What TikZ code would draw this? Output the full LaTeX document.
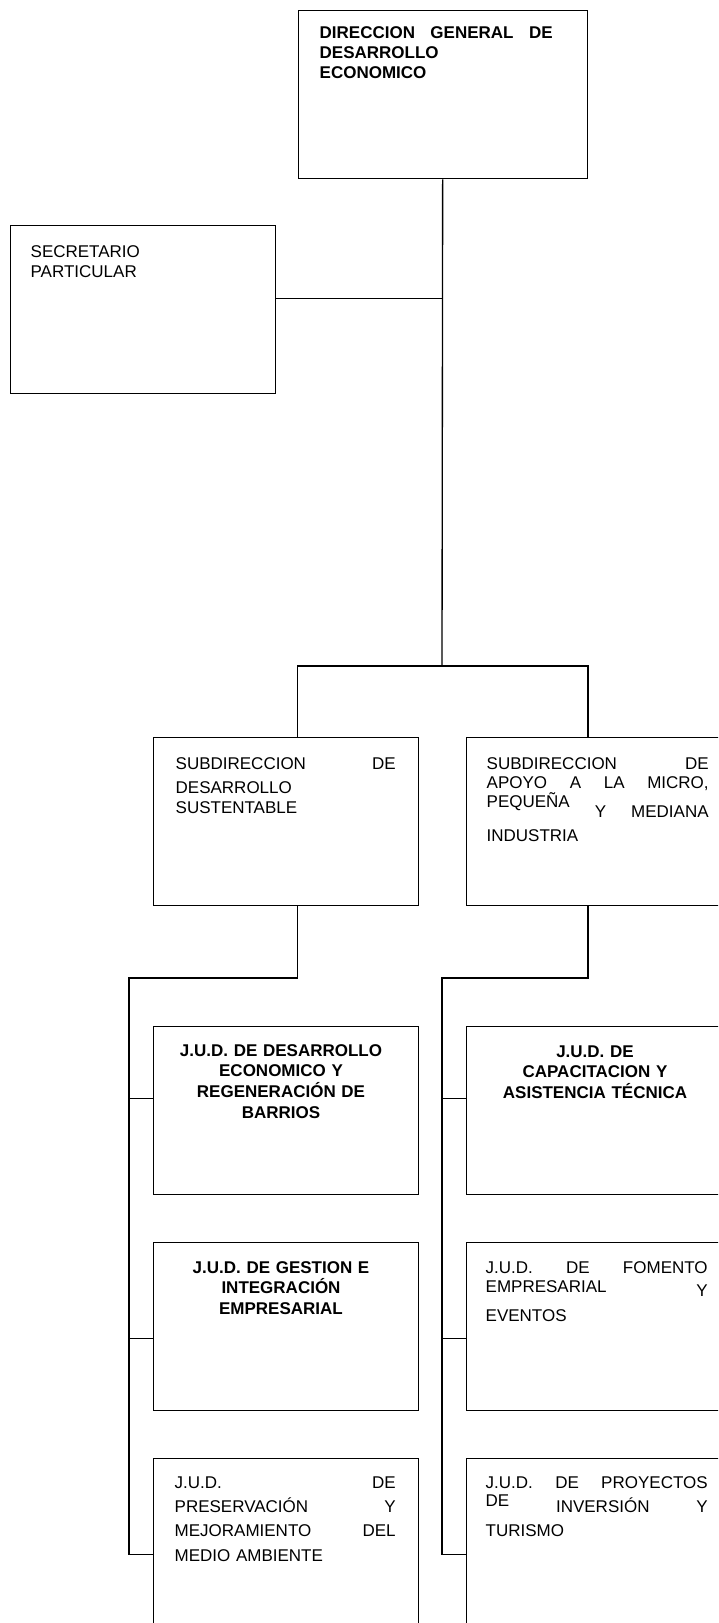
\documentclass[tikz,border=0pt]{standalone}
\usepackage{fontspec}
\setmainfont{Liberation Sans}

\begin{document}
\begin{tikzpicture}[x=0.75pt,y=-0.75pt,line width=1pt,
	box/.style={draw,anchor=north west,inner sep=0pt,minimum width=198.75pt,minimum height=126pt},
	txt/.style={anchor=base west,inner sep=0pt,align=left,font=\fontsize{12.75}{15}\selectfont},
	ctxt/.style={anchor=base,inner sep=0pt,align=center,text width=172.5pt,font=\fontsize{12.75}{15.5}\selectfont\bfseries},
	wide/.style={font=\fontsize{12.75}{18.25}\selectfont}]
\useasboundingbox (0,0) rectangle (718,1623);
\clip (0,0) rectangle (718,1623);

\node[box,minimum width=216.75pt] (dg) at (297.5,10) {};
\node[box] (sp) at (10,225) {};
\node[box] (sdL) at (153,737) {};
\node[box] (sdR) at (466,737) {};
\node[box] (jdL1) at (153,1026) {};
\node[box] (jdL2) at (153,1242) {};
\node[box] (jdL3) at (153,1458) {};
\node[box] (jdR1) at (466,1026) {};
\node[box] (jdR2) at (466,1242) {};
\node[box] (jdR3) at (466,1458) {};

\node[txt,text width=174.75pt] (dgT) at (319,39) {\bfseries DIRECCION\hfill GENERAL\hfill DE\\DESARROLLO\\ECONOMICO};
\node[txt,text width=180pt] (spT) at (30,257) {SECRETARIO\\PARTICULAR};
\node[txt,text width=165pt] (sdLT) at (175,769) {SUBDIRECCION\hfill DE\\[3pt]DESARROLLO\\SUSTENTABLE};
\node[txt,text width=166.5pt] (sdRT) at (486,769) {SUBDIRECCION\hfill DE\\[-0.75pt]APOYO\hfill A\hfill LA\hfill MICRO,\\[-0.75pt]PEQUEÑA\hfill\smash{\raisebox{-7.5pt}{Y}}\hfill\smash{\raisebox{-7.5pt}{MEDIANA}}\\[10.5pt]INDUSTRIA};
\node[ctxt] (jdL1T) at (281,1056) {J.U.D. DE DESARROLLO\\ECONOMICO Y\\REGENERACIÓN DE\\BARRIOS};
\node[ctxt] (jdR1T) at (595,1057) {J.U.D. DE\\CAPACITACION Y\\ASISTENCIA TÉCNICA};
\node[ctxt] (jdL2T) at (281,1273) {J.U.D. DE GESTION E\\INTEGRACIÓN\\EMPRESARIAL};
\node[txt,text width=166.5pt] (jdR2T) at (485,1273) {J.U.D.\hfill DE\hfill FOMENTO\\[-0.75pt]EMPRESARIAL\hfill\smash{\raisebox{-3pt}{Y}}\\[6.75pt]EVENTOS};
\node[txt,wide,text width=165.75pt] (jdL3T) at (174,1488) {J.U.D.\hfill DE\\PRESERVACIÓN\hfill Y\\MEJORAMIENTO\hfill DEL\\MEDIO AMBIENTE};
\node[txt,wide,text width=166.5pt] (jdR3T) at (485,1488) {J.U.D.\hfill DE\hfill PROYECTOS\\\raisebox{4.5pt}{DE}\hfill INVERSIÓN\hfill Y\\TURISMO};

\coordinate (jS) at (442,666);
\coordinate (jL) at (129,978);
\coordinate (jR) at (442,978);

\draw (dg.south) -- (jS);
\draw ([yshift=8.25pt]sp.east) -- ([yshift=8.25pt]sp.east -| jS);
\draw (dg.south west |- sdL.north) -- (dg.south west |- jS) -- (dg.south east |- jS) -- (dg.south east |- sdR.north);
\draw (sdL.south -| dg.south west) -- (dg.south west |- jL) -- (jL) -- ([yshift=-9pt]jdL3.west -| jL);
\draw (sdR.south -| dg.south east) -- (dg.south east |- jR) -- (jR) -- ([yshift=-9pt]jdR3.west -| jR);
\foreach \b/\s in {jdL1/9pt,jdL2/-9pt,jdL3/-9pt}
	\draw ([yshift=\s]\b.west) -- ([yshift=\s]\b.west -| jL);
\foreach \b/\s in {jdR1/9pt,jdR2/-9pt,jdR3/-9pt}
	\draw ([yshift=\s]\b.west) -- ([yshift=\s]\b.west -| jR);
\end{tikzpicture}
\end{document}
